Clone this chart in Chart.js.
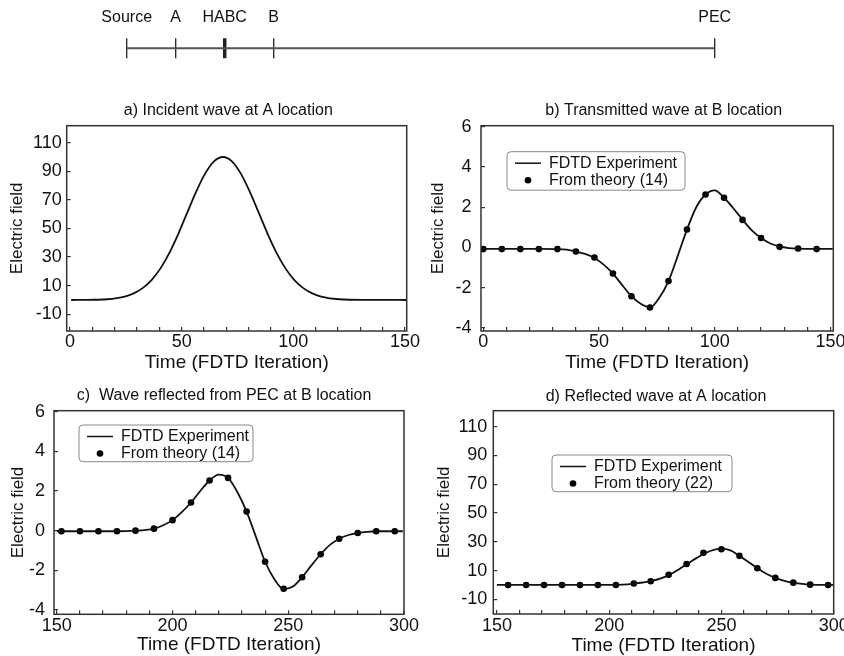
<!DOCTYPE html>
<html>
<head>
<meta charset="utf-8">
<title>FDTD HABC test</title>
<script src="https://cdn.jsdelivr.net/npm/chart.js@4.4.1/dist/chart.umd.min.js"></script>
<style>
  html, body { margin: 0; padding: 0; background: #fff; }
  #page { position: relative; width: 844px; height: 656px; overflow: hidden; }
  canvas { position: absolute; }
</style>
</head>
<body>
<div id="page">
  <canvas id="layout1d"></canvas>
  <canvas id="panelA"></canvas>
  <canvas id="panelB"></canvas>
  <canvas id="panelC"></canvas>
  <canvas id="panelD"></canvas>
</div>
<script>
// 1D grid sketch on top
const stationNames = ["Source", "A", "HABC", "B", "PEC"];
const stationPos = [0, 1, 2, 3, 12];

const seriesExp = "FDTD Experiment";
const seriesTheory14 = "From theory (14)";
const seriesTheory22 = "From theory (22)";

const xTicksEarly = [0, 10, 20, 30, 40, 50, 60, 70, 80, 90, 100, 110, 120, 130, 140, 150];
const xTicksLate = [150, 160, 170, 180, 190, 200, 210, 220, 230, 240, 250, 260, 270, 280, 290, 300];
const yTicksWide = [-10, 10, 30, 50, 70, 90, 110];
const yTicksNarrow = [-4, -2, 0, 2, 4, 6];

// a) incident wave at A
const incT = [0.5, 8.5, 16.5, 24.5, 28.5, 32.5, 36.5, 40.5, 44.5, 48.5, 52.5, 56.5, 60.5, 64.5, 68.5,
  72.5, 76.5, 80.5, 84.5, 88.5, 92.5, 96.5, 100.5, 104.5, 108.5, 112.5, 120.5, 132.5, 150.8];
const incE = [0, 0.1, 0.5, 2.4, 4.6, 8.3, 13.9, 22.1, 33.0, 46.3, 61.1, 75.8, 88.4, 97.0, 100,
  97.0, 88.4, 75.8, 61.1, 46.3, 33.0, 22.1, 13.9, 8.3, 4.6, 2.4, 0.5, 0.05, 0];

// b) transmitted wave at B
const trT = [0, 8, 16, 24, 32, 36, 40, 44, 48, 52, 56, 60, 64, 68, 72, 76, 80, 84, 88, 92, 96, 100,
  104, 108, 112, 116, 120, 124, 128, 132, 136, 144, 151];
const trE = [-0.07, -0.07, -0.07, -0.07, -0.08, -0.11, -0.2, -0.32, -0.52, -0.85, -1.3, -1.87, -2.42,
  -2.8, -2.98, -2.5, -1.67, -0.42, 0.9, 2.0, 2.63, 2.84, 2.47, 1.95, 1.38, 0.85, 0.47, 0.2, 0.05,
  -0.03, -0.06, -0.07, -0.07];
const trTheoryT = [0, 8, 16, 24, 32, 40, 48, 56, 64, 72, 80, 88, 96, 104, 112, 120, 128, 136, 144];
const trTheoryE = [-0.08, -0.08, -0.08, -0.08, -0.08, -0.2, -0.5, -1.29, -2.42, -2.98, -1.67, 0.89,
  2.63, 2.47, 1.37, 0.47, 0.03, -0.05, -0.08];

// c) wave reflected from PEC, seen at B
const refBT = [150, 160, 170, 180, 184, 188, 192, 196, 200, 204, 208, 212, 216, 220, 224, 228, 232,
  236, 240, 244, 248, 252, 256, 260, 264, 268, 272, 276, 280, 284, 288, 299.5];
const refBE = [-0.03, -0.03, -0.03, -0.02, 0, 0.03, 0.1, 0.27, 0.53, 0.93, 1.42, 2.0, 2.53, 2.83,
  2.66, 1.95, 0.96, -0.3, -1.57, -2.45, -2.95, -2.82, -2.35, -1.75, -1.19, -0.72, -0.41, -0.22,
  -0.12, -0.06, -0.03, -0.03];
const refBTheoryT = [152, 160, 168, 176, 184, 192, 200, 208, 216, 224, 232, 240, 248, 256, 264, 272,
  280, 288, 296];
const refBTheoryE = [-0.03, -0.03, -0.03, -0.03, 0, 0.1, 0.53, 1.42, 2.53, 2.66, 0.96, -1.57, -2.93,
  -2.35, -1.19, -0.41, -0.12, -0.03, -0.03];

// d) reflected wave at A
const refAT = [150, 200, 206, 211, 215, 219, 223, 227, 231, 235, 239, 243, 247, 250, 254, 258, 262,
  266, 270, 274, 278, 282, 286, 290, 294, 300];
const refAE = [0, 0, 0.2, 0.9, 1.7, 2.8, 4.6, 7.2, 10.8, 14.8, 18.8, 22.3, 24.5, 25.2, 24.0, 20.2,
  16.0, 11.6, 7.8, 4.9, 2.9, 1.6, 0.7, 0.2, 0, 0];
const refATheoryT = [155, 163, 171, 179, 187, 195, 203, 211, 218.5, 226.5, 234.5, 242, 250, 258, 266,
  274, 282, 289.5, 297.5];
const refATheoryE = [0, 0, 0, 0, 0, 0, 0, 1, 2.6, 7.0, 14.6, 22.3, 24.8, 20.2, 11.6, 4.9, 1.6, 0.2, 0];

// ---------------------------------------------------------------
const FONT = '"Liberation Sans", Arial, Helvetica, sans-serif';
Chart.defaults.font.family = FONT;
Chart.defaults.color = '#111';

const pairs = (xs, ys) => xs.map((x, i) => ({ x: x, y: ys[i] }));

function place(id, r) {
  const el = document.getElementById(id);
  el.width = r.w;
  el.height = r.h;
  el.style.left = r.x + 'px';
  el.style.top = r.y + 'px';
  return el;
}

// keep Chart.js from shrinking the plot to fit edge labels
function noEdgePadding(s) {
  s.paddingLeft = 0;
  s.paddingRight = 0;
  s.paddingTop = 0;
  s.paddingBottom = 0;
}

// frame, panel title and boxed legend
const panelDecor = {
  id: 'panelDecor',
  afterDraw(chart, args, o) {
    const { ctx, chartArea: a } = chart;
    ctx.save();
    ctx.strokeStyle = '#333';
    ctx.lineWidth = 1.5;
    ctx.strokeRect(a.left, a.top, a.right - a.left, a.bottom - a.top);

    ctx.fillStyle = '#111';
    ctx.font = '16px ' + FONT;
    ctx.textAlign = 'center';
    ctx.textBaseline = 'middle';
    ctx.fillText(o.title, o.titleX, o.titleY);

    if (o.legend) {
      const L = o.legend;
      const ds = chart.data.datasets;
      ctx.beginPath();
      ctx.roundRect(L.x, L.y, L.w, L.h, 4);
      ctx.fillStyle = '#fff';
      ctx.fill();
      ctx.strokeStyle = '#888';
      ctx.lineWidth = 1;
      ctx.stroke();

      const r1 = L.y + 11.5, r2 = L.y + 28.5;
      ctx.strokeStyle = '#111';
      ctx.lineWidth = 1.5;
      ctx.beginPath();
      ctx.moveTo(L.x + 8, r1);
      ctx.lineTo(L.x + 34, r1);
      ctx.stroke();
      ctx.fillStyle = '#000';
      ctx.beginPath();
      ctx.arc(L.x + 21, r2, 3.3, 0, Math.PI * 2);
      ctx.fill();

      ctx.fillStyle = '#111';
      ctx.textAlign = 'left';
      ctx.fillText(ds[0].label, L.x + 42, r1);
      ctx.fillText(ds[1].label, L.x + 42, r2);
    }
    ctx.restore();
  }
};

function makePanel(id, p) {
  const c = p.canvas, a = p.area;
  const el = place(id, c);
  const TL = -4;            // tick marks point into the plot
  const tickSize = 18, xTitleSize = 19, yTitleSize = 17;

  const datasets = [{
    label: seriesExp,
    data: pairs(p.lineT, p.lineE),
    borderColor: '#111',
    borderWidth: 1.8,
    pointRadius: 0,
    cubicInterpolationMode: 'monotone',
    showLine: true
  }];
  if (p.dotT) {
    datasets.push({
      label: p.dotName,
      data: pairs(p.dotT, p.dotE),
      showLine: false,
      pointRadius: 3.3,
      pointBackgroundColor: '#000',
      pointBorderWidth: 0
    });
  }

  const legend = p.legend ? {
    x: p.legend.x - c.x, y: p.legend.y - c.y, w: p.legend.w, h: p.legend.h
  } : null;

  return new Chart(el, {
    type: 'line',
    data: { datasets: datasets },
    options: {
      responsive: false,
      animation: false,
      events: [],
      layout: {
        padding: { left: 0, top: a.t - c.y, right: c.x + c.w - a.r, bottom: 0 }
      },
      plugins: {
        legend: { display: false },
        tooltip: { enabled: false },
        panelDecor: {
          title: p.title,
          titleX: p.titleX - c.x,
          titleY: p.titleY - c.y,
          legend: legend
        }
      },
      scales: {
        x: {
          type: 'linear',
          min: p.xRange[0],
          max: p.xRange[1],
          afterBuildTicks: s => { s.ticks = p.xTicks.map(v => ({ value: v })); },
          afterFit: s => { s.height = c.y + c.h - a.b; noEdgePadding(s); },
          grid: { drawOnChartArea: false, drawTicks: true, tickLength: TL, color: '#333', lineWidth: 1.2 },
          border: { display: false },
          ticks: {
            autoSkip: false,
            maxRotation: 0,
            font: { size: tickSize, lineHeight: 1 },
            padding: p.xLabelY - a.b - TL - tickSize / 2,
            callback: v => (v % 50 === 0 ? String(v) : '')
          },
          title: {
            display: true,
            text: 'Time (FDTD Iteration)',
            font: { size: xTitleSize, lineHeight: 1 },
            padding: { top: 0, bottom: c.y + c.h - p.xTitleY - xTitleSize / 2 }
          }
        },
        y: {
          type: 'linear',
          min: p.yRange[0],
          max: p.yRange[1],
          afterBuildTicks: s => { s.ticks = p.yTicks.map(v => ({ value: v })); },
          afterFit: s => { s.width = a.l - c.x; noEdgePadding(s); },
          grid: { drawOnChartArea: false, drawTicks: true, tickLength: TL, color: '#333', lineWidth: 1.2 },
          border: { display: false },
          ticks: {
            autoSkip: false,
            font: { size: tickSize, lineHeight: 1 },
            padding: p.yGap - TL,
            callback: v => String(v)
          },
          title: {
            display: true,
            text: 'Electric field',
            font: { size: yTitleSize, lineHeight: 1 },
            padding: { top: p.yTitleX - c.x - yTitleSize / 2, bottom: 0 }
          }
        }
      }
    },
    plugins: [panelDecor]
  });
}

// ---- top: 1D layout sketch ----
new Chart(place('layout1d', { x: 0, y: 0, w: 844, h: 80 }), {
  type: 'scatter',
  data: {
    datasets: [{
      data: [{ x: stationPos[0], y: 0 }, { x: stationPos[stationPos.length - 1], y: 0 }],
      showLine: true,
      borderColor: '#555',
      borderWidth: 2,
      pointRadius: 0
    }, {
      data: stationPos.map(v => ({ x: v, y: 0 })),
      showLine: false,
      pointStyle: 'line',
      rotation: 90,
      pointRadius: 10,
      pointBorderColor: '#222',
      pointBorderWidth: stationNames.map(n => (n === 'HABC' ? 3.5 : 1.3))
    }]
  },
  options: {
    responsive: false,
    animation: false,
    events: [],
    layout: { padding: { left: 77.7, right: 80.3, top: 0, bottom: 13.4 } },
    plugins: { legend: { display: false }, tooltip: { enabled: false } },
    scales: {
      x: {
        type: 'linear',
        position: 'top',
        min: -1,
        max: 13,
        afterBuildTicks: s => { s.ticks = stationPos.map(v => ({ value: v })); },
        afterFit: s => { s.height = 30; noEdgePadding(s); },
        grid: { display: false },
        border: { display: false },
        ticks: {
          autoSkip: false,
          maxRotation: 0,
          padding: -3.5,
          font: { size: 16, lineHeight: 1 },
          callback: v => stationNames[stationPos.indexOf(v)]
        }
      },
      y: { display: false, min: -1, max: 1 }
    }
  }
});

// ---- the four panels ----
makePanel('panelA', {
  canvas: { x: 0, y: 96, w: 422, h: 278 },
  area: { l: 66.7, t: 125.7, r: 406.7, b: 331 },
  xRange: [-1.5, 150.8], yRange: [-21.7, 121.9],
  xTicks: xTicksEarly, yTicks: yTicksWide,
  title: 'a) Incident wave at A location', titleX: 228.3, titleY: 111,
  yTitleX: 17.5, xTitleY: 363, xLabelY: 342.5, yGap: 5,
  lineT: incT, lineE: incE
});

makePanel('panelB', {
  canvas: { x: 422, y: 96, w: 422, h: 278 },
  area: { l: 481, t: 125.7, r: 833.3, b: 331 },
  xRange: [-1, 151.2], yRange: [-4.15, 6.05],
  xTicks: xTicksEarly, yTicks: yTicksNarrow,
  title: 'b) Transmitted wave at B location', titleX: 663.7, titleY: 111,
  yTitleX: 438.5, xTitleY: 363, xLabelY: 342, yGap: 9.5,
  lineT: trT, lineE: trE,
  dotT: trTheoryT, dotE: trTheoryE, dotName: seriesTheory14,
  legend: { x: 507, y: 151.7, w: 178, h: 38.5 }
});

makePanel('panelC', {
  canvas: { x: 0, y: 382, w: 422, h: 274 },
  area: { l: 54, t: 410.7, r: 404, b: 614.3 },
  xRange: [148.8, 300], yRange: [-4.22, 6.05],
  xTicks: xTicksLate, yTicks: yTicksNarrow,
  title: 'c)  Wave reflected from PEC at B location', titleX: 224, titleY: 396,
  yTitleX: 18, xTitleY: 645, xLabelY: 626, yGap: 9,
  lineT: refBT, lineE: refBE,
  dotT: refBTheoryT, dotE: refBTheoryE, dotName: seriesTheory14,
  legend: { x: 79, y: 425, w: 174, h: 36.7 }
});

makePanel('panelD', {
  canvas: { x: 422, y: 382, w: 422, h: 274 },
  area: { l: 493.3, t: 410.7, r: 833.7, b: 614 },
  xRange: [148.4, 300], yRange: [-20.2, 121.1],
  xTicks: xTicksLate, yTicks: yTicksWide,
  title: 'd) Reflected wave at A location', titleX: 656, titleY: 397,
  yTitleX: 444.5, xTitleY: 645.5, xLabelY: 626, yGap: 6,
  lineT: refAT, lineE: refAE,
  dotT: refATheoryT, dotE: refATheoryE, dotName: seriesTheory22,
  legend: { x: 552, y: 455, w: 180, h: 36.7 }
});
</script>
</body>
</html>
